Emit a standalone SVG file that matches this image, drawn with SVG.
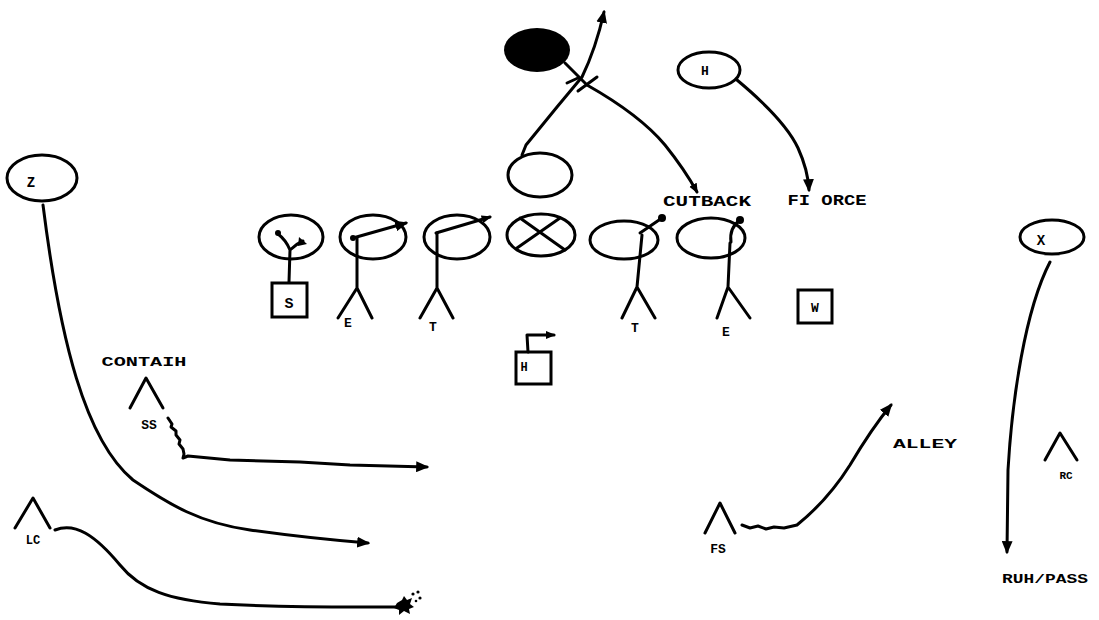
<svg xmlns="http://www.w3.org/2000/svg" width="1099" height="620" viewBox="0 0 1099 620">
<style>
.ln{fill:none;stroke:#000;stroke-width:3;stroke-linecap:round;stroke-linejoin:round}
.ov{fill:none;stroke:#000;stroke-width:3}
.bx{fill:#fff;stroke:#000;stroke-width:3}
.t{font-family:"Liberation Mono","DejaVu Sans Mono",monospace;font-weight:bold;fill:#000}
.dot{fill:#000}
</style>
<defs>
<marker id="ah" viewBox="0 0 12 10" refX="10" refY="5" markerWidth="13" markerHeight="11" markerUnits="userSpaceOnUse" orient="auto">
<path d="M0,0 L12,5 L0,10 z" fill="#000"/>
</marker>
<marker id="ahs" viewBox="0 0 12 10" refX="10" refY="5" markerWidth="10" markerHeight="9" markerUnits="userSpaceOnUse" orient="auto">
<path d="M0,0 L12,5 L0,10 z" fill="#000"/>
</marker>
</defs>
<rect width="1099" height="620" fill="#fff"/>

<g id="connectors">
<path class="ln" d="M522,155 L526,145 L557,107 L582,77 Q596,48 604,12" marker-end="url(#ah)"/>
<path class="ln" d="M565,63 L587,85 Q640,115 665,145 Q685,170 697,192" marker-end="url(#ahs)"/>
<path class="ln" d="M567,83 L578,78 M578,91 L597,77"/>
<path class="ln" d="M737,80 Q785,120 798,148 Q808,170 809,190" marker-end="url(#ah)"/>
<path class="ln" d="M43,205 C60,340 85,440 133,480 C170,505 200,523 250,530 C300,537 330,540 368,543" marker-end="url(#ah)"/>
<path class="ln" d="M168,418 l4,6 l-1,3 l5,4 l0,4 l4,5 l-1,4 l4,5 l1,5 l-1,4 L188,456 L230,460 L300,462 L350,465 L427,467" marker-end="url(#ah)"/>
<path class="ln" d="M55,530 C75,522 95,535 120,565 C140,590 170,600 220,604 C300,608 350,607 398,607"/>
<path class="dot" d="M397,603 L402,600 L404,596 L407,600 L412,598 L410,604 L414,607 L409,609 L410,614 L404,611 L399,615 L399,610 L394,608 z"/>
<circle class="dot" cx="413" cy="594" r="1.6"/><circle class="dot" cx="418" cy="592" r="1.6"/><circle class="dot" cx="420" cy="598" r="1.6"/><circle class="dot" cx="416" cy="601" r="1.3"/>
<path class="ln" d="M742,525 l8,3 l8,-2 l8,3 l8,-2 l10,1 L797,525 Q828,500 850,465 Q872,428 891,405" marker-end="url(#ah)"/>
<path class="ln" d="M1050,262 C1025,310 1012,400 1008,470 L1007,552" marker-end="url(#ah)"/>
</g>

<g id="ball">
<ellipse cx="537" cy="50" rx="33" ry="22" fill="#000"/>
</g>
<g id="qb">
<ellipse class="ov" cx="540" cy="175" rx="32" ry="22"/>
</g>
<g id="h-back">
<ellipse class="ov" cx="709" cy="70" rx="31" ry="18"/>
<text class="t" x="705" y="75" font-size="13" text-anchor="middle">H</text>
</g>
<g id="cutback-label">
<text class="t" x="707" y="206" font-size="15" text-anchor="middle" textLength="88" lengthAdjust="spacingAndGlyphs">CUTBACK</text>
</g>
<g id="force-label">
<text class="t" x="827" y="205" font-size="15" text-anchor="middle" textLength="79" lengthAdjust="spacingAndGlyphs">FI ORCE</text>
</g>

<g id="z">
<ellipse class="ov" cx="42" cy="178" rx="35" ry="23"/>
<text class="t" x="31" y="187" font-size="14" text-anchor="middle">Z</text>
</g>
<g id="x">
<ellipse class="ov" cx="1052" cy="237" rx="32" ry="17"/>
<text class="t" x="1041" y="245" font-size="14" text-anchor="middle">X</text>
</g>

<g id="ol-s">
<ellipse class="ov" cx="291" cy="237" rx="32" ry="22"/>
<path class="ln" d="M289,282 L290,250 M290,250 Q286,240 278,234 M290,250 Q296,244 303,241"/>
<circle class="dot" cx="278" cy="233" r="3"/>
<path d="M299,237 L307,244 L298,246 z" fill="#000"/>
</g>
<g id="lb-s">
<rect class="bx" x="272" y="283" width="35" height="34"/>
<text class="t" x="289" y="308" font-size="15" text-anchor="middle">S</text>
</g>
<g id="ol-e">
<ellipse class="ov" cx="373" cy="237" rx="33" ry="22"/>
<path class="ln" d="M353,238 L406,223" marker-end="url(#ah)"/>
<circle class="dot" cx="353" cy="238" r="3"/>
</g>
<g id="dl-e-left">
<path class="ln" d="M357,238 L357,288 M338,318 L357,288 L372,318"/>
<text class="t" x="348" y="327" font-size="13" text-anchor="middle">E</text>
</g>
<g id="ol-t">
<ellipse class="ov" cx="457" cy="237" rx="33" ry="22"/>
<path class="ln" d="M436,233 L490,217" marker-end="url(#ahs)"/>
</g>
<g id="dl-t-left">
<path class="ln" d="M437,233 L437,288 M420,318 L437,288 L453,318"/>
<text class="t" x="433" y="331" font-size="13" text-anchor="middle">T</text>
</g>
<g id="center">
<ellipse class="ov" cx="541" cy="235" rx="34" ry="21"/>
<path class="ln" d="M520,218 L565,250 M560,218 L517,248"/>
</g>
<g id="ol-t-right">
<ellipse class="ov" cx="624" cy="240" rx="34" ry="19"/>
<path class="ln" d="M640,233 L662,218"/>
<circle class="dot" cx="662" cy="218" r="4"/>
</g>
<g id="dl-t-right">
<path class="ln" d="M642,235 L637,287 M622,318 L637,287 L655,318"/>
<text class="t" x="635" y="332" font-size="13" text-anchor="middle">T</text>
</g>
<g id="ol-e-right">
<ellipse class="ov" cx="711" cy="238" rx="34" ry="20"/>
<path class="ln" d="M731,242 Q729,228 740,220"/>
<circle class="dot" cx="740" cy="220" r="4"/>
</g>
<g id="dl-e-right">
<path class="ln" d="M730,243 L728,287 M717,318 L728,287 L750,318"/>
<text class="t" x="726" y="336" font-size="13" text-anchor="middle">E</text>
</g>
<g id="lb-w">
<rect class="bx" x="798" y="290" width="34" height="33"/>
<text class="t" x="815" y="312" font-size="13" text-anchor="middle">W</text>
</g>
<g id="lb-h">
<rect class="bx" x="516" y="352" width="35" height="32"/>
<text class="t" x="524" y="371" font-size="12" text-anchor="middle">H</text>
<path class="ln" d="M528,352 L527,335 L554,335" marker-end="url(#ahs)"/>
</g>

<g id="contain-label">
<text class="t" x="144" y="366" font-size="13" text-anchor="middle" textLength="85" lengthAdjust="spacingAndGlyphs">CONTAIH</text>
</g>
<g id="ss">
<path class="ln" d="M130,408 L146,378 L163,408"/>
<text class="t" x="149" y="429" font-size="13" text-anchor="middle">SS</text>
</g>
<g id="lc">
<path class="ln" d="M15,528 L33,498 L50,528"/>
<text class="t" x="33" y="544" font-size="12" text-anchor="middle">LC</text>
</g>
<g id="fs">
<path class="ln" d="M705,533 L720,503 L735,533"/>
<text class="t" x="718" y="553" font-size="13" text-anchor="middle">FS</text>
</g>
<g id="alley-label">
<text class="t" x="925" y="448" font-size="12" text-anchor="middle" textLength="64" lengthAdjust="spacingAndGlyphs">ALLEY</text>
</g>
<g id="rc">
<path class="ln" d="M1045,460 L1060,433 L1077,460"/>
<text class="t" x="1066" y="479" font-size="11" text-anchor="middle">RC</text>
</g>
<g id="runpass-label">
<text class="t" x="1045" y="583" font-size="12" text-anchor="middle" textLength="86" lengthAdjust="spacingAndGlyphs">RUH/PASS</text>
</g>
</svg>
